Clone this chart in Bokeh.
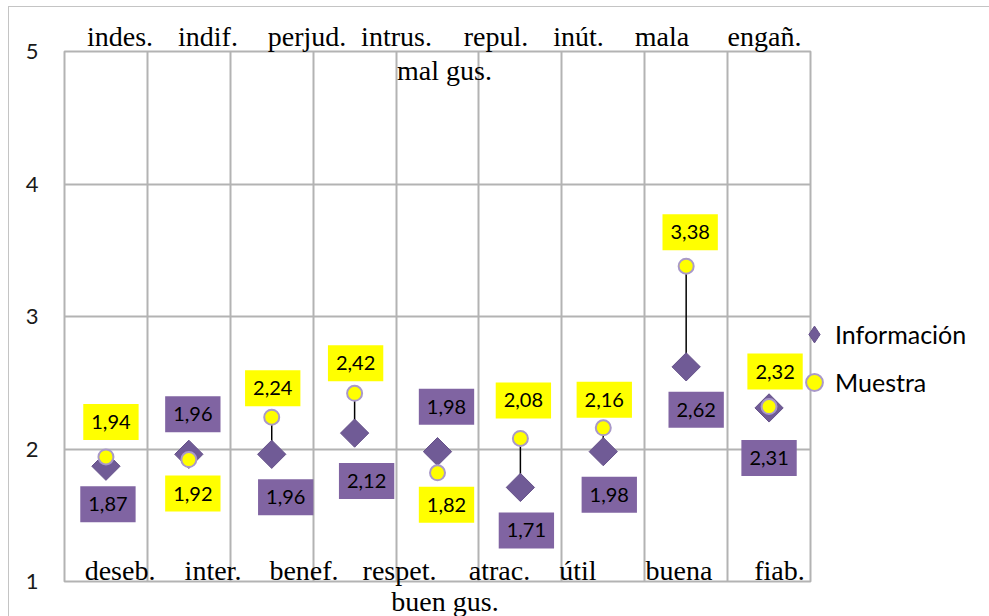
import math
from bokeh.plotting import figure
from bokeh.models import ColumnDataSource, FixedTicker, Legend, LegendItem, Label, LinearAxis
from bokeh.core.properties import value
from bokeh.embed import file_html
from bokeh.resources import INLINE

# ---------------- data ----------------
categories_pos = ["deseb.", "inter.", "benef.", "respet.", "buen gus.", "atrac.", "útil", "buena", "fiab."]
categories_neg = ["indes.", "indif.", "perjud.", "intrus.", "mal gus.", "repul.", "inút.", "mala", "engañ."]
informacion = [1.87, 1.96, 1.96, 2.12, 1.98, 1.71, 1.98, 2.62, 2.31]
muestra = [1.94, 1.92, 2.24, 2.42, 1.82, 2.08, 2.16, 3.38, 2.32]
y_ticks = [1, 2, 3, 4, 5]

# ---------------- layout (pixels) ----------------
FRAME_W, FRAME_H = 746, 530
N = len(categories_pos)
PX_X = FRAME_W / N
PX_Y = FRAME_H / (y_ticks[-1] - y_ticks[0])

# data-label offsets in screen pixels (dx right, dy down)
info_dx = [2, 4, 14, 12, 9, 6, 6, 10, 0]
info_dy = [38, -40, 43, 48, -45, 43, 43, 43, 50]
mue_dx = [5, 4, 1, 1, 9, 3, 1, 4, 6]
mue_dy = [-35, 34, -29, -30, 32, -38, -28, -34, -35]

# category text centres (px from frame left) and line index (0 = first line, 1 = wrapped line)
top_cx = [55.5, 143.5, 242.5, 332, 380, 431.5, 514, 597.5, 700]
top_line = [0, 0, 0, 0, 1, 0, 0, 0, 0]
bot_cx = [55.5, 148.5, 239.5, 335, 380.5, 435, 513.5, 614.5, 715]
bot_line = [0, 0, 0, 0, 1, 0, 0, 0, 0]

PURPLE_BOX = "#8064A2"
PURPLE_MK = "#705B96"
YELLOW = "#FFFF00"
GRID = "#b3b3b3"
SERIF = "Liberation Serif"
CAT_SIZE = "28px"


def fmt(v):
    return f"{v:.2f}".replace(".", ",")


xs = [i + 0.5 for i in range(N)]
src = ColumnDataSource(dict(
    x=xs, info=informacion, mue=muestra,
    info_lbl=[fmt(v) for v in informacion], mue_lbl=[fmt(v) for v in muestra],
    info_dx=info_dx, info_dy=info_dy, mue_dx=mue_dx, mue_dy=mue_dy,
))

p = figure(frame_width=FRAME_W, frame_height=FRAME_H, x_range=(0, N), y_range=(y_ticks[0], y_ticks[-1]),
           output_backend="svg", toolbar_location=None,
           min_border_left=55, min_border_right=179, min_border_top=44, min_border_bottom=35,
           background_fill_color="white", border_fill_color="white",
           styles={"margin-left": "8px", "margin-top": "6px",
                   "border-left": "1px solid #c4c4c4", "border-top": "1px solid #c4c4c4"})

p.outline_line_color = GRID
p.outline_line_width = 2
p.xaxis.visible = False
p.yaxis.ticker = FixedTicker(ticks=y_ticks)
p.yaxis.axis_line_color = None
p.yaxis.major_tick_line_color = None
p.yaxis.minor_tick_line_color = None
p.yaxis.major_tick_in = 0
p.yaxis.major_tick_out = 0
p.yaxis.major_label_standoff = 26
p.yaxis.major_label_text_font = "Lato"
p.yaxis.major_label_text_font_size = "22px"
p.yaxis.major_label_text_color = "#1a1a1a"

p.xgrid.ticker = FixedTicker(ticks=list(range(N + 1)))
p.ygrid.ticker = FixedTicker(ticks=y_ticks)
p.xgrid.grid_line_color = GRID
p.ygrid.grid_line_color = GRID
p.xgrid.grid_line_width = 2
p.ygrid.grid_line_width = 2

# high-low connector lines
p.segment(x0="x", y0="info", x1="x", y1="mue", source=src, line_color="black", line_width=1.5)

info_r = p.scatter("x", "info", source=src, marker="square", angle=math.pi / 4, size=20,
                   fill_color=PURPLE_MK, line_color="#66528A", line_width=1)
mue_r = p.scatter("x", "mue", source=src, marker="circle", size=15,
                  fill_color=YELLOW, line_color="#A999C9", line_width=2)

# data labels
p.text(x="x", y="info", text="info_lbl", x_offset="info_dx", y_offset="info_dy", source=src,
       text_font=value("Lato"), text_font_size="20px", text_color="black",
       text_align="center", text_baseline="middle",
       background_fill_color=PURPLE_BOX, padding=(8, 11))
p.text(x="x", y="mue", text="mue_lbl", x_offset="mue_dx", y_offset="mue_dy", source=src,
       text_font=value("Lato"), text_font_size="20px", text_color="black",
       text_align="center", text_baseline="middle",
       background_fill_color=YELLOW, padding=(8, 11))


def cat_axis(ticks, labels, standoff, line_height=1.2):
    return LinearAxis(ticker=FixedTicker(ticks=ticks),
                      major_label_overrides=dict(zip(ticks, labels)),
                      axis_line_color=None, major_tick_line_color=None, minor_tick_line_color=None,
                      major_tick_in=0, major_tick_out=0, major_label_standoff=standoff,
                      major_label_text_font=SERIF, major_label_text_font_size=CAT_SIZE,
                      major_label_text_color="black", major_label_text_line_height=line_height)


# first line above the frame: an axis on top
top_ticks = [round(c / PX_X, 4) for c, ln in zip(top_cx, top_line) if ln == 0]
top_labels = [t for t, ln in zip(categories_neg, top_line) if ln == 0]
p.add_layout(cat_axis(top_ticks, top_labels, 0), "above")

# bottom texts (two lines, the first one overlapping the frame edge): an axis below
bot_ticks = [round(c / PX_X, 4) for c in bot_cx]
bot_labels = [("\n" * ln) + t for t, ln in zip(categories_pos, bot_line)]
p.add_layout(cat_axis(bot_ticks, bot_labels, -27, 1.0), "below")

# wrapped top text that sits inside the frame
for txt, cx, ln in zip(categories_neg, top_cx, top_line):
    if ln == 1:
        p.add_layout(Label(x=cx / PX_X, y=y_ticks[-1] - 19 / PX_Y, text=txt,
                           text_font=SERIF, text_font_size=CAT_SIZE, text_color="black",
                           text_align="center", text_baseline="alphabetic"))

# legend
nan = float("nan")
leg_info = p.scatter(x=[nan], y=[nan], marker="diamond", size=20,
                     fill_color=PURPLE_MK, line_color="#66528A", line_width=1)
legend = Legend(items=[LegendItem(label="Información", renderers=[leg_info]),
                       LegendItem(label="Muestra", renderers=[mue_r])],
                location=(-17, 178), orientation="vertical",
                glyph_width=42, glyph_height=42, label_height=42, spacing=6,
                label_standoff=0, padding=0, margin=0,
                background_fill_alpha=0, border_line_alpha=0,
                label_text_font="Lato", label_text_font_size="25px", label_text_color="black")
p.add_layout(legend, "right")

open("out.html", "w").write(file_html(p, INLINE))
